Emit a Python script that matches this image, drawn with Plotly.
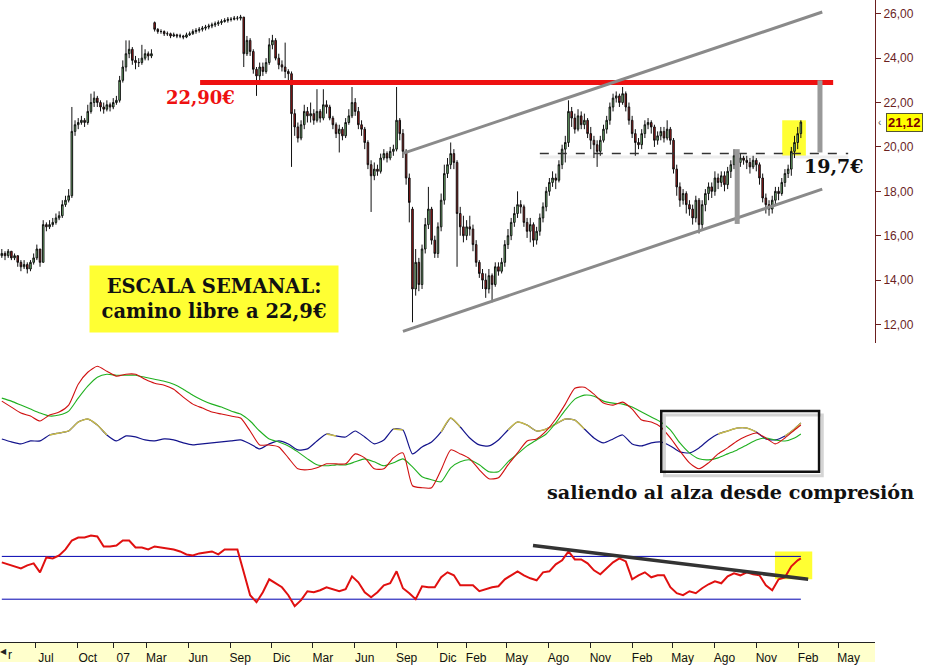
import plotly.graph_objects as go
import pandas as pd

# ---------------- weekly price bars ----------------
week_start = "2006-04-17"
n_weeks = 252
dates = pd.date_range(week_start, periods=n_weeks, freq="7D")

opens = [15.1, 15.2, 15.1, 15.3, 15.0, 15.1, 14.8, 14.6, 14.7, 14.5,
         14.8, 15.0, 15.4, 14.8, 16.5, 16.4, 16.5, 16.6, 16.8, 16.9,
         17.4, 17.6, 17.8, 20.7, 21.0, 21.1, 21.2, 21.1, 21.6, 22.0,
         22.2, 22.0, 21.8, 21.7, 21.9, 21.8, 22.0, 22.1, 23.0, 23.6,
         24.2, 24.4, 23.9, 23.8, 23.8, 24.0, 24.2, 24.1, 25.6, 25.3,
         25.2, 25.2, 25.1, 25.1, 25.0, 25.05, 25.0, 25.0, 24.95, 25.05,
         25.1, 25.2, 25.25, 25.3, 25.35, 25.4, 25.45, 25.5, 25.55, 25.6,
         25.65, 25.7, 25.75, 25.75, 25.8, 25.8, 25.85, 24.2, 24.8, 24.3,
         23.5, 23.2, 23.6, 23.4, 23.8, 24.6, 24.8, 24.0, 23.7, 23.6,
         23.4, 23.3, 21.5, 20.9, 20.4, 21.0, 21.6, 21.4, 21.5, 21.2,
         21.6, 21.3, 21.9, 21.8, 21.3, 21.0, 20.6, 20.8, 20.5, 21.1,
         21.4, 22.0, 21.6, 21.0, 20.8, 20.2, 19.2, 18.7, 19.0, 18.9,
         19.5, 19.7, 19.5, 19.8, 19.9, 21.2, 20.6, 19.8, 18.6, 17.2,
         13.6, 14.8, 13.8, 15.4, 16.5, 17.2, 15.8, 15.2, 16.4, 17.6,
         18.8, 19.2, 19.7, 19.3, 17.0, 16.4, 16.0, 16.4, 16.3, 15.6,
         14.8, 14.3, 14.0, 13.6, 14.2, 13.8, 14.6, 14.4, 14.8, 15.6,
         16.0, 16.6, 17.0, 17.4, 17.3, 16.6, 16.2, 16.5, 15.8, 16.2,
         16.8, 17.3, 18.0, 18.4, 18.6, 18.5, 19.2, 19.9, 20.2, 21.6,
         21.3, 20.8, 21.4, 21.0, 21.2, 20.6, 20.3, 20.1, 19.8, 20.3,
         20.8, 21.2, 21.8, 22.2, 22.3, 22.0, 22.4, 21.8, 21.2, 20.6,
         20.2, 20.1, 20.6, 21.0, 21.1, 20.9, 20.3, 20.5, 20.7, 20.4,
         20.8, 20.3, 19.0, 18.2, 17.6, 17.9, 17.4, 17.2, 16.8, 17.6,
         16.5, 17.4, 17.9, 18.2, 18.0, 18.6, 18.4, 18.7, 18.3, 18.9,
         19.2, 19.6, 19.3, 19.5, 19.4, 19.3, 19.1, 19.4, 19.2, 18.6,
         17.7, 17.4, 17.2, 17.6, 18.0, 17.9, 18.4, 18.8, 19.0, 19.8, 20.2, 20.6]

highs = [15.4, 15.3, 15.4, 15.3, 15.2, 15.1, 14.9, 14.9, 14.8, 14.9,
         15.2, 15.6, 15.4, 16.7, 16.6, 16.7, 16.8, 17.0, 17.1, 17.6,
         17.8, 18.1, 21.8, 21.2, 21.3, 21.4, 21.3, 21.9, 22.4, 22.5,
         22.3, 22.1, 22.0, 22.1, 22.0, 22.2, 22.3, 23.2, 23.9, 24.8,
         24.8, 24.5, 24.1, 24.0, 24.6, 24.4, 24.3, 24.4, 25.65, 25.35,
         25.3, 25.25, 25.2, 25.15, 25.15, 25.1, 25.1, 25.05, 25.15, 25.2,
         25.3, 25.35, 25.4, 25.45, 25.5, 25.55, 25.6, 25.65, 25.7, 25.75,
         25.8, 25.85, 25.85, 25.9, 25.9, 25.95, 25.85, 25.0, 24.9, 24.4,
         23.6, 23.8, 23.8, 24.0, 24.9, 25.05, 24.9, 24.2, 23.9, 24.7,
         23.5, 23.4, 21.7, 21.1, 21.2, 21.9, 21.8, 22.0, 21.7, 22.6,
         21.7, 22.6, 22.1, 21.9, 21.4, 21.1, 21.0, 20.9, 21.3, 21.7,
         22.7, 22.2, 21.8, 21.2, 20.9, 20.3, 19.4, 19.3, 19.2, 19.7,
         19.9, 19.8, 20.0, 20.1, 22.7, 21.3, 20.8, 19.9, 18.8, 17.3,
         15.4, 15.0, 15.6, 16.8, 18.2, 17.3, 16.0, 16.6, 17.9, 19.2,
         19.5, 20.2, 19.9, 19.4, 17.3, 16.9, 16.7, 16.9, 16.5, 15.8,
         14.9, 14.5, 14.3, 14.5, 14.3, 14.8, 14.8, 15.0, 15.8, 16.3,
         16.8, 17.3, 18.0, 17.6, 17.4, 16.8, 16.8, 16.6, 16.4, 17.0,
         17.5, 18.2, 18.6, 18.9, 18.8, 19.4, 20.1, 20.5, 22.1, 21.8,
         21.5, 21.7, 21.6, 21.5, 21.3, 20.9, 20.5, 20.3, 20.5, 21.0,
         21.4, 22.0, 22.4, 22.5, 22.4, 22.7, 22.5, 22.0, 21.4, 20.8,
         20.4, 20.8, 21.2, 21.3, 21.2, 21.0, 20.7, 20.9, 20.9, 21.2,
         20.9, 20.4, 19.2, 18.4, 18.1, 18.0, 17.6, 17.4, 17.8, 17.7,
         17.6, 18.1, 18.4, 18.4, 18.9, 18.8, 18.9, 18.9, 19.1, 19.4,
         19.9, 19.7, 19.7, 19.6, 19.6, 19.5, 19.6, 19.5, 19.3, 18.8,
         17.9, 17.6, 17.8, 18.2, 18.2, 18.6, 19.0, 19.2, 20.0, 20.5, 20.9, 21.2]

lows = [15.0, 14.9, 15.0, 14.9, 14.9, 14.6, 14.4, 14.5, 14.3, 14.4,
        14.7, 14.9, 14.6, 14.8, 16.2, 16.3, 16.4, 16.5, 16.7, 16.8,
        17.3, 17.5, 17.7, 20.5, 20.8, 21.0, 20.9, 21.0, 21.5, 21.8,
        21.8, 21.6, 21.5, 21.6, 21.6, 21.7, 21.9, 22.0, 22.9, 23.4,
        24.0, 23.7, 23.5, 23.6, 23.7, 23.9, 23.9, 24.0, 25.2, 25.1,
        25.1, 25.0, 25.0, 24.9, 24.95, 24.9, 24.9, 24.85, 24.9, 25.0,
        25.05, 25.1, 25.15, 25.2, 25.25, 25.3, 25.35, 25.4, 25.45, 25.5,
        25.6, 25.6, 25.65, 25.7, 25.7, 25.7, 23.6, 24.1, 24.1, 23.3,
        22.3, 23.0, 23.2, 23.3, 23.7, 24.4, 23.9, 23.5, 23.4, 23.1,
        23.0, 19.1, 20.5, 20.2, 20.3, 20.8, 21.1, 21.1, 21.0, 21.1,
        21.1, 21.2, 21.5, 21.2, 20.8, 20.4, 19.75, 20.3, 20.4, 21.0,
        21.3, 21.4, 20.8, 20.5, 19.9, 19.0, 17.07, 18.5, 18.7, 18.8,
        19.4, 19.3, 19.4, 19.6, 19.8, 20.3, 19.5, 18.3, 16.6, 12.1,
        13.3, 13.5, 13.6, 15.2, 16.3, 15.6, 15.0, 15.0, 16.2, 17.4,
        18.6, 19.0, 19.0, 14.6, 16.0, 15.7, 15.8, 16.0, 15.3, 14.6,
        14.1, 13.6, 13.2, 13.4, 13.0, 13.7, 14.2, 14.3, 14.6, 15.4,
        15.8, 16.4, 16.8, 17.0, 16.4, 15.9, 15.7, 15.5, 15.6, 16.0,
        16.6, 17.1, 17.8, 18.2, 18.1, 18.4, 19.0, 19.3, 20.0, 20.9,
        20.6, 20.7, 20.8, 20.8, 20.4, 19.9, 19.5, 19.1, 19.6, 20.2,
        20.6, 21.0, 21.6, 22.0, 21.8, 21.9, 21.6, 21.0, 20.4, 19.6,
        19.9, 19.9, 20.4, 20.8, 20.6, 20.0, 20.1, 20.3, 20.2, 20.3,
        20.1, 18.8, 17.8, 17.3, 17.4, 17.0, 16.9, 16.5, 16.6, 16.1,
        16.3, 17.1, 17.6, 17.7, 17.8, 18.1, 18.2, 18.0, 18.1, 18.6,
        19.0, 19.1, 19.1, 19.2, 19.0, 18.8, 19.0, 18.9, 18.3, 17.5,
        17.0, 16.9, 17.0, 17.4, 17.6, 17.8, 18.2, 18.6, 18.7, 19.5, 19.9, 20.4]

closes = [15.2, 15.1, 15.3, 15.0, 15.1, 14.8, 14.6, 14.7, 14.5, 14.8,
          15.0, 15.4, 14.8, 16.5, 16.4, 16.5, 16.6, 16.8, 16.9, 17.4,
          17.6, 17.8, 20.7, 21.0, 21.1, 21.2, 21.1, 21.6, 22.0, 22.2,
          22.0, 21.8, 21.7, 21.9, 21.8, 22.0, 22.1, 23.0, 23.6, 24.2,
          24.4, 23.9, 23.8, 23.8, 24.0, 24.2, 24.1, 24.2, 25.3, 25.2,
          25.2, 25.1, 25.1, 25.0, 25.05, 25.0, 25.0, 24.95, 25.05, 25.1,
          25.2, 25.25, 25.3, 25.35, 25.4, 25.45, 25.5, 25.55, 25.6, 25.65,
          25.7, 25.75, 25.75, 25.8, 25.8, 25.85, 24.2, 24.8, 24.3, 23.5,
          23.2, 23.6, 23.4, 23.8, 24.6, 24.8, 24.0, 23.7, 23.6, 23.4,
          23.3, 21.5, 20.9, 20.4, 21.0, 21.6, 21.4, 21.5, 21.2, 21.6,
          21.3, 21.9, 21.8, 21.3, 21.0, 20.6, 20.8, 20.5, 21.1, 21.4,
          22.0, 21.6, 21.0, 20.8, 20.2, 19.2, 18.7, 19.0, 18.9, 19.5,
          19.7, 19.5, 19.8, 19.9, 21.2, 20.6, 19.8, 18.6, 17.5, 13.6,
          14.8, 13.8, 15.4, 16.5, 17.2, 15.8, 15.2, 16.4, 17.6, 18.8,
          19.2, 19.7, 19.3, 17.0, 16.4, 16.0, 16.4, 16.3, 15.6, 14.8,
          14.3, 14.0, 13.6, 14.2, 13.8, 14.6, 14.4, 14.8, 15.6, 16.0,
          16.6, 17.0, 17.4, 17.3, 16.6, 16.2, 16.5, 15.8, 16.2, 16.8,
          17.3, 18.0, 18.4, 18.6, 18.5, 19.2, 19.9, 20.2, 21.6, 21.3,
          20.8, 21.4, 21.0, 21.2, 20.6, 20.3, 20.1, 19.8, 20.3, 20.8,
          21.2, 21.8, 22.2, 22.3, 22.0, 22.4, 21.8, 21.2, 20.6, 20.2,
          20.1, 20.6, 21.0, 21.1, 20.9, 20.3, 20.5, 20.7, 20.4, 20.8,
          20.3, 19.0, 18.2, 17.6, 17.9, 17.4, 17.2, 16.8, 17.6, 16.5,
          17.4, 17.9, 18.2, 18.0, 18.6, 18.4, 18.7, 18.3, 18.9, 19.2,
          19.6, 19.3, 19.5, 19.4, 19.3, 19.1, 19.4, 19.2, 18.6, 17.7,
          17.4, 17.2, 17.6, 18.0, 17.9, 18.4, 18.8, 19.0, 19.8, 20.2, 20.6, 21.12]

# ---------------- middle indicator panel (every 3rd week) ----------------
ind_idx = list(range(0, 252, 3)) + [251]
fast_line = [27, 21, 15, 12, 7, 13, 16, 23, 44, 56, 62, 57, 52, 54, 54, 49, 45, 43, 39, 31,
             24, 20, 16, 14, 12, 10, -3, -17, -17, -19, -30, -41, -42, -40, -36, -36, -36, -26, -30, -41,
             -41, -30, -25, -58, -60, -60, -42, -22, -26, -31, -42, -51, -50, -37, -25, -13, -11, -3, 9, 24,
             40, 41, 34, 25, 23, 26, 19, 8, 6, 1, -10, -23, -35, -41, -35, -26, -20, -13, -8, -5,
             -10, -16, -10, -2, 3]
slow_line = [30, 27, 23, 19, 15, 12, 13, 17, 30, 42, 51, 54, 53, 53, 53, 51, 49, 47, 44, 39,
             33, 28, 24, 21, 17, 14, 7, -3, -11, -14, -18, -24, -31, -37, -38, -37, -37, -34, -31, -34,
             -38, -35, -31, -39, -49, -52, -54, -40, -34, -32, -37, -44, -44, -34, -26, -18, -12, -6, 5, 18,
             29, 33, 32, 27, 25, 24, 21, 16, 11, 6, -2, -15, -25, -31, -32, -30, -26, -22, -17, -12,
             -10, -12, -13, -10, -6]
trend_line = [-11, -14, -16, -13, -13, -7, -5, -3, 6, 9, 3, -7, -13, -8, -9, -12, -13, -11, -12, -15,
              -17, -16, -15, -14, -13, -12, -16, -21, -16, -13, -16, -22, -21, -13, -6, -8, -9, -3, -9, -16,
              -12, -1, -2, -26, -19, -14, -4, 10, 1, -10, -17, -18, -12, -2, 6, 3, -3, -1, 4, 9,
              8, -1, -10, -15, -11, -7, -16, -18, -15, -14, -18, -24, -25, -20, -12, -6, -3, 0, 0, -4,
              -11, -12, -8, -1, 5]
trend_up = [0, 0, 0, 0, 0, 1, 1, 1, 1, 1, 1, 1, 0, 1, 0, 0, 0, 0, 0, 0,
            0, 0, 0, 0, 0, 0, 0, 0, 0, 0, 0, 0, 0, 0, 1, 1, 0, 1, 0, 0,
            0, 1, 1, 0, 0, 0, 1, 1, 1, 0, 0, 0, 0, 1, 1, 1, 1, 1, 1, 1,
            1, 1, 0, 0, 0, 1, 0, 0, 0, 0, 0, 0, 0, 0, 0, 1, 1, 1, 1, 1,
            0, 0, 1, 1, 1]

# ---------------- bottom oscillator panel (every 2nd week) ----------------
osc_idx = list(range(0, 252, 2)) + [251]
osc = [15, 13, 11, 9, 12, 14, 5, 20, 19, 22, 28, 37, 40, 40, 42, 41, 31, 31, 32, 37,
       37, 30, 30, 28, 31, 30, 29, 28, 26, 23, 22, 24, 25, 26, 23, 28, 28, 28, 5, -18,
       -25, -15, -2, -6, -10, -18, -29, -23, -14, -15, -13, -10, -12, -14, -12, 1, -5, -15, -20, -15,
       -8, -6, 6, -11, -16, -22, -9, -10, -10, 0, 5, 2, -8, -8, -8, -14, -12, -10, -9, -2,
       2, 6, 2, -1, -3, 5, 6, 13, 17, 26, 18, 18, 14, 7, 3, 9, 15, 19, 16, -2,
       2, 5, 0, 2, 2, -10, -16, -18, -14, -16, -11, -7, -4, -6, 1, 4, 2, 5, 3, 2,
       -8, -13, -2, 0, 11, 17, 19]
osc_upper = 21
osc_lower = -22

# ---------------- axis labels ----------------
tick_dates = ["2006-07-01", "2006-10-01", "2006-12-18", "2007-03-01", "2007-06-01", "2007-09-01",
              "2007-12-01", "2008-03-01", "2008-06-01", "2008-09-01", "2008-12-01", "2009-02-01",
              "2009-05-01", "2009-08-01", "2009-11-01", "2010-02-01", "2010-05-01", "2010-08-01",
              "2010-11-01", "2011-02-01", "2011-05-01"]
tick_labels = ["Jul", "Oct", "07", "Mar", "Jun", "Sep", "Dic", "Mar", "Jun", "Sep", "Dic", "Feb",
               "May", "Ago", "Nov", "Feb", "May", "Ago", "Nov", "Feb", "May"]
price_ticks = [12, 14, 16, 18, 20, 22, 24, 26]

assert len(opens) == len(highs) == len(lows) == len(closes) == n_weeks
assert len(fast_line) == len(slow_line) == len(trend_line) == len(trend_up) == len(ind_idx)
assert len(osc) == len(osc_idx)

ind_x = [dates[i] for i in ind_idx]
osc_x = [dates[i] for i in osc_idx]

fig = go.Figure()

fig.add_trace(go.Candlestick(
    x=dates, open=opens, high=highs, low=lows, close=closes,
    increasing=dict(line=dict(color="#111111", width=1), fillcolor="#7fcf7f"),
    decreasing=dict(line=dict(color="#111111", width=1), fillcolor="#b01818"),
    whiskerwidth=0, showlegend=False, hoverinfo="skip", xaxis="x", yaxis="y"))

# middle panel
fig.add_trace(go.Scatter(x=ind_x, y=trend_line, mode="lines", yaxis="y2",
                         line=dict(color="#14148c", width=1.2, shape="spline", smoothing=0.6),
                         showlegend=False, hoverinfo="skip"))
fig.add_trace(go.Scatter(x=ind_x, y=[v if u else None for v, u in zip(trend_line, trend_up)],
                         mode="lines", yaxis="y2", connectgaps=False,
                         line=dict(color="#c8bc48", width=1.4, shape="spline", smoothing=0.6),
                         showlegend=False, hoverinfo="skip"))
fig.add_trace(go.Scatter(x=ind_x, y=slow_line, mode="lines", yaxis="y2",
                         line=dict(color="#20b020", width=1.1, shape="spline", smoothing=0.6),
                         showlegend=False, hoverinfo="skip"))
fig.add_trace(go.Scatter(x=ind_x, y=fast_line, mode="lines", yaxis="y2",
                         line=dict(color="#d01010", width=1.1, shape="spline", smoothing=0.6),
                         showlegend=False, hoverinfo="skip"))

# bottom panel
fig.add_trace(go.Scatter(x=[dates[0], dates[-1]], y=[osc_upper, osc_upper], mode="lines", yaxis="y3",
                         line=dict(color="#0000b0", width=1), showlegend=False, hoverinfo="skip"))
fig.add_trace(go.Scatter(x=[dates[0], dates[-1]], y=[osc_lower, osc_lower], mode="lines", yaxis="y3",
                         line=dict(color="#0000b0", width=1), showlegend=False, hoverinfo="skip"))
fig.add_trace(go.Scatter(x=osc_x, y=osc, mode="lines", yaxis="y3",
                         line=dict(color="#e01010", width=2), showlegend=False, hoverinfo="skip"))

shapes = []
# x axis band
shapes.append(dict(type="rect", xref="paper", yref="paper", x0=0, x1=1, y0=-0.031, y1=0,
                   fillcolor="#ffffcc", line=dict(width=0), layer="below"))
# yellow highlights
shapes.append(dict(type="rect", xref="x", yref="y", x0="2010-12-28", x1="2011-02-18", y0=19.53, y1=21.2,
                   fillcolor="#ffff33", line=dict(width=0), layer="below"))
shapes.append(dict(type="rect", xref="x", yref="y3", x0="2010-12-12", x1="2011-03-04", y0=-2, y1=26,
                   fillcolor="#ffff33", line=dict(width=0), layer="below"))
# resistance 22,90
shapes.append(dict(type="line", xref="x", yref="y", x0="2007-06-27", x1="2011-04-19", y0=22.9, y1=22.9,
                   line=dict(color="#ee1111", width=5)))
# channel
shapes.append(dict(type="line", xref="x", yref="y", x0="2008-09-15", x1="2011-03-26", y0=19.71, y1=26.08,
                   line=dict(color="#8a8a8a", width=3)))
shapes.append(dict(type="line", xref="x", yref="y", x0="2008-09-15", x1="2011-03-26", y0=11.69, y1=18.10,
                   line=dict(color="#8a8a8a", width=3)))
# 19,7 level
shapes.append(dict(type="line", xref="x", yref="y", x0="2009-07-13", x1="2011-05-22", y0=19.55, y1=19.55,
                   line=dict(color="#ededed", width=3), layer="below"))
shapes.append(dict(type="line", xref="x", yref="y", x0="2009-07-13", x1="2011-05-22", y0=19.7, y1=19.7,
                   line=dict(color="#333333", width=1.5, dash="dash")))
# measured move verticals
shapes.append(dict(type="line", xref="x", yref="y", x0="2010-09-20", x1="2010-09-20", y0=16.53, y1=19.9,
                   line=dict(color="#999999", width=5)))
shapes.append(dict(type="line", xref="x", yref="y", x0="2011-03-21", x1="2011-03-21", y0=19.75, y1=23.0,
                   line=dict(color="#999999", width=5)))
# compression box (with shadow)
shapes.append(dict(type="rect", xref="x", yref="y2", x0="2010-04-13", x1="2011-03-26", y0=-48, y1=13,
                   line=dict(color="#d4d4d4", width=3)))
shapes.append(dict(type="rect", xref="x", yref="y2", x0="2010-04-06", x1="2011-03-19", y0=-44, y1=17,
                   line=dict(color="#111111", width=2.5)))
# oscillator trendline
shapes.append(dict(type="line", xref="x", yref="y3", x0="2009-06-28", x1="2011-02-23", y0=32, y1=-2,
                   line=dict(color="#333333", width=3.5)))

serif_bold = "DejaVu Serif"
annotations = [
    dict(x="2007-06-27", y=22.22, xref="x", yref="y", text="<b>22,90€</b>", showarrow=False,
         xanchor="center", yanchor="middle",
         font=dict(family=serif_bold, size=18, color="#ee1111")),
    dict(x="2011-04-21", y=19.13, xref="x", yref="y", text="<b>19,7€</b>", showarrow=False,
         xanchor="center", yanchor="middle",
         font=dict(family=serif_bold, size=19, color="#111111")),
    dict(x=214 / 875, y=(645 - 300) / 645, xref="paper", yref="paper",
         xanchor="center", yanchor="middle",
         text="<b>ESCALA SEMANAL:</b><br><b>camino libre a 22,9€</b>", showarrow=False,
         bgcolor="#ffff33", width=246, height=64, align="center",
         font=dict(family=serif_bold, size=19.5, color="#111111")),
    dict(x=545 / 875, y=(645 - 495) / 645, xref="paper", yref="paper", xanchor="left", yanchor="middle",
         text="<b>saliendo al alza desde compresión</b>", showarrow=False,
         font=dict(family=serif_bold, size=19.2, color="#111111")),
    dict(x=904.5 / 875, y=21.12, xref="paper", yref="y", text="<b>21,12</b>", showarrow=False,
         xanchor="center", yanchor="middle",
         bgcolor="#ffff00", bordercolor="#555533", borderwidth=1, borderpad=1,
         font=dict(family="Liberation Sans", size=13, color="#7a0000")),
    dict(x=879 / 875, y=21.12, xref="paper", yref="y", text="‹", showarrow=False,
         xanchor="center", yanchor="middle",
         font=dict(family="Liberation Sans", size=10, color="#555555")),
    dict(x=10 / 875, y=-13 / 645, xref="paper", yref="paper", text="r", showarrow=False,
         xanchor="center", yanchor="middle",
         font=dict(family="Liberation Sans", size=12, color="#111111")),
    dict(x=3 / 875, y=-10 / 645, xref="paper", yref="paper", text="◀", showarrow=False,
         xanchor="center", yanchor="middle",
         font=dict(family="DejaVu Sans", size=8, color="#222222")),
]

fig.update_layout(
    width=933, height=665,
    margin=dict(l=0, r=58, t=0, b=20),
    paper_bgcolor="white", plot_bgcolor="white",
    showlegend=False, separators=",.",
    shapes=shapes, annotations=annotations,
    xaxis=dict(type="date", range=["2006-04-13", "2011-07-20"], rangeslider=dict(visible=False),
               anchor="free", position=0, showgrid=False, zeroline=False,
               tickmode="array", tickvals=tick_dates, ticktext=tick_labels,
               ticks="outside", ticklen=5, tickcolor="#222222", showline=True, linecolor="#222222",
               tickfont=dict(family="Liberation Sans", size=12, color="#111111"), ticklabelshift=10),
    yaxis=dict(domain=[(645 - 345) / 645, 1], range=[11.148, 26.62], side="right", anchor="x",
               showgrid=False, zeroline=False, tickmode="array", tickvals=price_ticks, tickformat=".2f",
               ticks="outside", ticklen=5, tickcolor="#6b1f1f", showline=True, linecolor="#6b1f1f",
               tickfont=dict(family="Liberation Sans", size=12, color="#6b1f1f")),
    yaxis2=dict(domain=[(645 - 510) / 645, (645 - 350) / 645], range=[-80, 80], visible=False, anchor="x"),
    yaxis3=dict(domain=[(645 - 630) / 645, (645 - 520) / 645], range=[-50, 60], visible=False, anchor="x"),
)

fig.write_html("out.html", config={"displayModeBar": False},
               post_script="document.body.style.margin='0';document.body.style.overflow='hidden';")
